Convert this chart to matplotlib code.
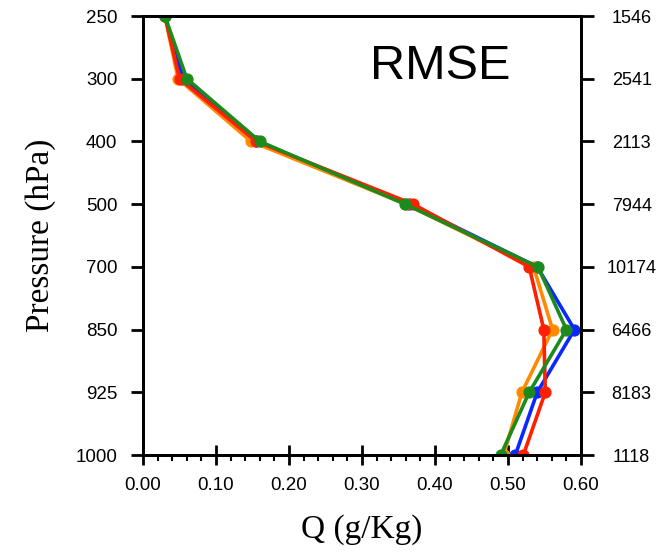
import numpy as np
import matplotlib.pyplot as plt
from matplotlib.ticker import MultipleLocator

# pressure levels (top to bottom) and sample counts per level
levels = [250, 300, 400, 500, 700, 850, 925, 1000]
counts = [1546, 2541, 2113, 7944, 10174, 6466, 8183, 1118]

# RMSE of specific humidity (g/Kg) for each experiment
rmse_blue = [0.030, 0.055, 0.155, 0.365, 0.540, 0.591, 0.540, 0.510]
rmse_orange = [0.030, 0.048, 0.148, 0.360, 0.535, 0.561, 0.519, 0.494]
rmse_red = [0.030, 0.050, 0.155, 0.370, 0.529, 0.549, 0.551, 0.521]
rmse_green = [0.030, 0.060, 0.160, 0.359, 0.541, 0.580, 0.529, 0.490]

series = [
    (rmse_blue, '#0a28ff'),
    (rmse_orange, '#ff8a00'),
    (rmse_red, '#ff2000'),
    (rmse_green, '#1d8a1d'),
]

sans = 'Liberation Sans'
serif = 'Liberation Serif'

fig = plt.figure(figsize=(6.59, 5.54), dpi=100)
ax = fig.add_axes([0.217, 0.1787, 0.6647, 0.7924])

ypos = np.arange(len(levels))
for vals, color in series:
    ax.plot(vals, ypos, color=color, lw=2.6, marker='o', ms=7.8,
            solid_joinstyle='round')

ax.set_xlim(0, 0.6)
ax.set_ylim(len(levels) - 1, 0)

for sp in ax.spines.values():
    sp.set_linewidth(2.0)

ax.xaxis.set_minor_locator(MultipleLocator(0.02))
ax.set_xticks(np.arange(0, 0.61, 0.1))
ax.set_xticklabels(['%.2f' % v for v in np.arange(0, 0.61, 0.1)],
                   fontfamily=sans, fontsize=13.5)
ax.tick_params(axis='x', which='major', direction='inout', length=15,
               width=2.0, pad=8)
ax.tick_params(axis='x', which='minor', direction='out', length=4,
               width=1.5)

ax.set_yticks(ypos)
ax.set_yticklabels([str(p) for p in levels], fontfamily=sans, fontsize=13.5)
ax.tick_params(axis='y', direction='out', length=9, width=2.0, pad=9.5)

ax.set_xlabel('Q (g/Kg)', fontfamily=serif, fontsize=24, labelpad=15)
ax.set_ylabel('Pressure (hPa)', fontfamily=serif, fontsize=24, labelpad=14)

# sample counts on the right-hand axis
ax2 = ax.twinx()
ax2.set_ylim(ax.get_ylim())
ax2.set_yticks(ypos)
ax2.set_yticklabels([str(c) for c in counts], fontfamily=sans, fontsize=13)
ax2.tick_params(axis='y', direction='out', length=9, width=2.0, pad=27.5)
for lab in ax2.get_yticklabels():
    lab.set_horizontalalignment('center')
for sp in ax2.spines.values():
    sp.set_linewidth(2.0)

ax.text(0.678, 0.886, 'RMSE', transform=ax.transAxes, ha='center',
        va='center', fontfamily=sans, fontsize=35)

fig.savefig('out.png', dpi=100)
